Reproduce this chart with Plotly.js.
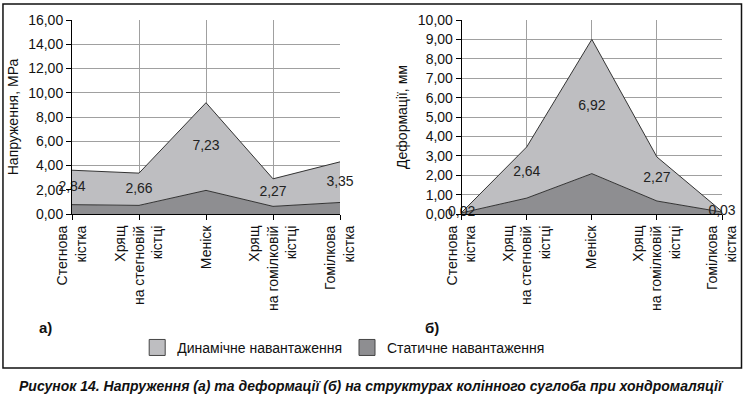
<!DOCTYPE html>
<html>
<head>
<meta charset="utf-8">
<script src="https://cdn.plot.ly/plotly-3.0.1.min.js"></script>
<style>html,body{margin:0;padding:0;background:#fff;}#chart{width:748px;height:396px;}</style>
</head>
<body>
<div id="chart"></div>
<script>
// ---- data ----
var categories = ["Стегнова<br>кістка", "Хрящ<br>на стегновій<br>кістці", "Меніск", "Хрящ<br>на гомілковій<br>кістці", "Гомілкова<br>кістка"];
var stressStatic  = [0.77, 0.71, 1.95, 0.63, 0.95];
var stressDynamic = [2.84, 2.66, 7.23, 2.27, 3.35];
var deformStatic  = [0.06, 0.82, 2.08, 0.67, 0.10];
var deformDynamic = [0.02, 2.64, 6.92, 2.27, 0.03];
var seriesNames = ["Динамічне навантаження", "Статичне навантаження"];
var panelLabels = ["а)", "б)"];
var yTitles = ["Напруження, МРа", "Деформації, мм"];
var caption = "Рисунок 14. Напруження (а) та деформації (б) на структурах колінного суглоба при хондромаляції";

var lightFill = "#bebec1", darkFill = "#8e8e91", edge = "#333333";
var fmt = function(v){ return v.toFixed(2).replace(".", ","); };
var mids = function(s, d){ return s.map(function(v, i){ return v + d[i] / 2; }); };

function areaTraces(st, dy, xa, ya, grp){
  return [
    {x: categories, y: st, type: "scatter", mode: "lines", stackgroup: grp, fillcolor: darkFill,
     line: {color: edge, width: 1}, xaxis: xa, yaxis: ya, showlegend: false, name: seriesNames[1]},
    {x: categories, y: dy, type: "scatter", mode: "lines", stackgroup: grp, fillcolor: lightFill,
     line: {color: edge, width: 1}, xaxis: xa, yaxis: ya, showlegend: false, name: seriesNames[0]},
    {x: categories, y: mids(st, dy), type: "scatter", mode: "text", text: dy.map(fmt),
     textposition: "middle center", textfont: {family: "Liberation Sans, Arial", size: 14, color: "#222"},
     cliponaxis: false, hoverinfo: "skip", xaxis: xa, yaxis: ya, showlegend: false}
  ];
}

var data = [].concat(
  areaTraces(stressStatic, stressDynamic, "x", "y", "a"),
  areaTraces(deformStatic, deformDynamic, "x2", "y2", "b"),
  [
    {x: [null], y: [null], type: "scatter", mode: "markers", name: seriesNames[0], xaxis: "x", yaxis: "y",
     marker: {symbol: "square", size: 18, color: lightFill, line: {color: "#444", width: 1}}},
    {x: [null], y: [null], type: "scatter", mode: "markers", name: seriesNames[1], xaxis: "x", yaxis: "y",
     marker: {symbol: "square", size: 18, color: darkFill, line: {color: "#444", width: 1}}}
  ]
);

var tickFont = {family: "Liberation Sans, Arial", size: 14, color: "#111"};
function xAxis(domain, anchor){
  return {domain: domain, anchor: anchor, type: "category", range: [0, 4], tickangle: -90,
    showgrid: true, gridcolor: "#a0a0a0", gridwidth: 1, ticks: "outside", ticklen: 5, tickcolor: "#000",
    showline: true, linecolor: "#000", linewidth: 1, zeroline: false, tickfont: tickFont, fixedrange: true};
}
function yAxis(range, dtick, anchor, title){
  return {domain: [0, 1], anchor: anchor, range: range, dtick: dtick, tickformat: ".2f",
    showgrid: true, gridcolor: "#a0a0a0", gridwidth: 1, ticks: "outside", ticklen: 5, tickcolor: "#000",
    showline: true, linecolor: "#000", linewidth: 1, zeroline: false, tickfont: tickFont,
    title: {text: title, font: {family: "Liberation Sans, Arial", size: 14, color: "#111"}, standoff: 6}};
}

var layout = {
  width: 748, height: 396,
  margin: {l: 72, r: 26, t: 20, b: 182},
  paper_bgcolor: "#fff", plot_bgcolor: "#fff",
  separators: ", ",
  xaxis: xAxis([0, 0.4123], "y"),
  yaxis: yAxis([0, 16], 2, "x", yTitles[0]),
  xaxis2: xAxis([0.5995, 1], "y2"),
  yaxis2: yAxis([0, 10], 1, "x2", yTitles[1]),
  showlegend: true,
  legend: {orientation: "h", traceorder: "normal", x: 0.418, xanchor: "center", y: -0.69, yanchor: "middle",
    font: {family: "Liberation Sans, Arial", size: 14, color: "#111"},
    bgcolor: "rgba(0,0,0,0)", itemwidth: 30},
  shapes: [
    {type: "rect", xref: "paper", yref: "paper", x0: -0.1062, x1: 1.030, y0: -0.7938, y1: 1.0825,
     line: {color: "#111", width: 1.5}, fillcolor: "rgba(0,0,0,0)"}
  ],
  annotations: [
    {text: "<b>" + panelLabels[0] + "</b>", xref: "paper", yref: "paper", x: -0.0415, y: -0.5876,
     xanchor: "center", yanchor: "middle",
     showarrow: false, font: {family: "Liberation Sans, Arial", size: 15, color: "#111"}},
    {text: "<b>" + panelLabels[1] + "</b>", xref: "paper", yref: "paper", x: 0.5534, y: -0.5825,
     xanchor: "center", yanchor: "middle",
     showarrow: false, font: {family: "Liberation Sans, Arial", size: 15, color: "#111"}},
    {text: "<b><i>" + caption + "</i></b>", xref: "paper", yref: "paper", x: 0.4608, y: -0.885,
     xanchor: "center", yanchor: "middle",
     showarrow: false, font: {family: "Liberation Sans, Arial", size: 14, color: "#111"}}
  ]
};

Plotly.newPlot("chart", data, layout, {displayModeBar: false, staticPlot: true});
</script>
</body>
</html>
